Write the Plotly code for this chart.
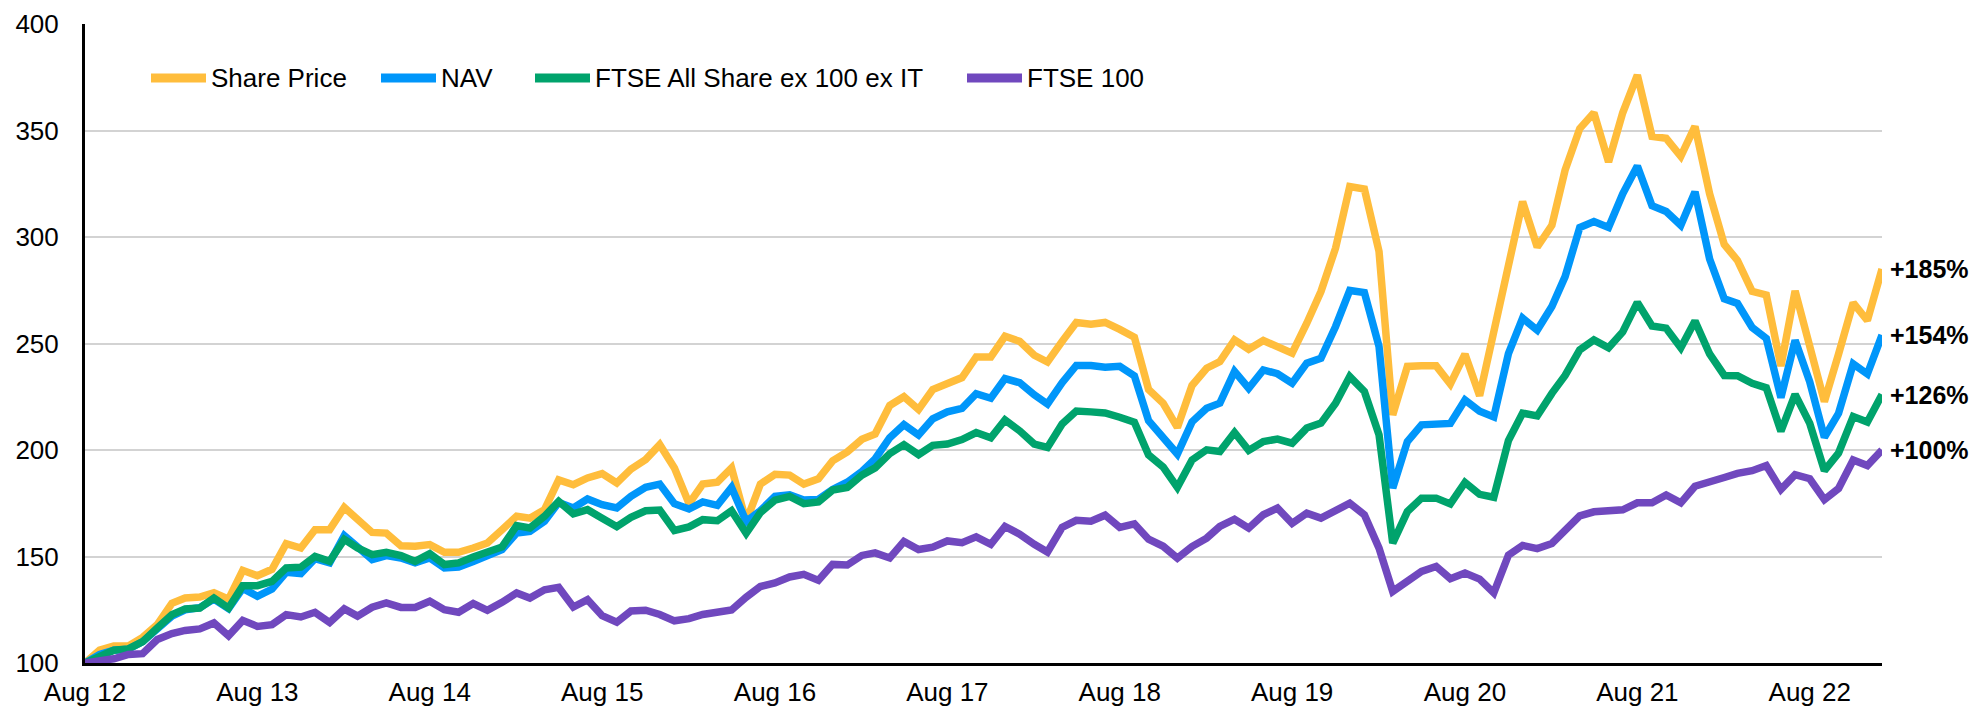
import plotly.graph_objects as go
import pandas as pd

# monthly index, Aug 2012 = 100
months = pd.date_range("2012-08-01", "2023-01-01", freq="MS")

share_price = [
    100, 106, 108, 108, 112, 118, 128, 130.5, 131, 133, 130, 143.5, 141, 144, 156, 154, 162.6, 162.6, 173, 167,
    161.3, 161, 155, 154.8, 155.6, 152, 152, 154, 156.3, 162.6, 168.9, 168, 172, 186, 183.7, 186.9, 188.9, 184.5, 191, 195.5,
    202.5, 191.6, 174.8, 184, 184.9, 191.6, 166.4, 184, 188.6, 188.2, 184, 186.5, 194.9, 199.1, 205, 207.5, 220.9, 225, 219, 228.4,
    231.6, 234, 243.7, 243.7, 253.4, 251, 244.5, 241.3, 251, 259.9, 259, 259.9, 256.6, 252.9, 228.4, 221.9, 210.6, 230.3, 238.4, 241.5,
    251.7, 247.3, 251.4, 248.6, 245.5, 259.5, 274.4, 294.8, 323.7, 322.5, 293.2, 216.5, 239.2, 239.5, 239.5, 231, 245, 225.5, 255.4, 285,
    316.6, 295.3, 305.5, 331.4, 350.9, 358.3, 335.2, 358.3, 376, 347.2, 346.3, 337.9, 351.9, 320.3, 296.5, 289, 274.5, 272.8, 239.4, 274.7,
    248.7, 222.7, 245, 269.1, 260.8, 285,
]

nav = [
    100, 104, 106, 106.5, 110, 115.5, 122, 125, 126, 130, 125.5, 135, 131.3, 134.7, 142.6, 142, 149, 147, 159.8, 154.5,
    148.5, 150.4, 149.3, 147, 149.3, 144.6, 145, 147.7, 150, 153.2, 161, 161.8, 166.5, 175.4, 172.8, 177, 174.3, 172.8, 178.2, 182.5,
    184, 174.8, 172.3, 175.6, 174, 182.4, 166.4, 171.5, 178.2, 179, 176.5, 176.8, 181.5, 184.9, 189.9, 195.8, 205.8, 211.9, 207, 214.6,
    217.9, 219.5, 226.4, 224.3, 233.5, 231.6, 225.9, 221.6, 231.6, 239.7, 239.7, 238.9, 239.3, 234.8, 213.8, 205.7, 198.1, 213.2, 219.6, 222,
    236.9, 229, 237.6, 235.8, 231.4, 240.8, 243.1, 258, 274.9, 273.9, 248.6, 182.1, 204, 211.8, 212.3, 212.5, 223.5, 218.2, 215.5, 245.2,
    261.9, 256.3, 267.4, 281.4, 304.5, 307.3, 304.5, 320.3, 333.3, 314.7, 312, 305.5, 321.2, 289.7, 271, 268.8, 257.5, 252.4, 224.6, 251.5,
    232, 206, 217.2, 240.4, 235.7, 254,
]

ftse_all_share = [
    100, 103, 106, 106.6, 110, 116.4, 122.7, 125.4, 125.8, 130.5, 125.8, 136.3, 136.3, 138.3, 144.6, 145, 150, 147.7, 158, 154,
    150.9, 152, 150.4, 147.7, 151.3, 146.2, 147, 149.8, 152.4, 154.5, 164.5, 163.4, 168.9, 175.9, 170, 172, 168, 164, 168.4, 171.5,
    171.8, 162.2, 163.9, 167.3, 166.8, 171.5, 160.9, 170.6, 176.5, 178.2, 174.8, 175.6, 181.2, 182.4, 188.2, 191.6, 198.3, 202.5, 197.8, 202.2,
    202.8, 204.9, 208.2, 205.7, 214.1, 209, 202.8, 201.2, 212.2, 218.3, 217.9, 217.4, 215.4, 213, 197.7, 192, 182.5, 195.3, 200.1, 199.3,
    208.2, 199.8, 204, 205.1, 203.2, 210.3, 212.6, 222, 234.5, 227.5, 207.1, 156.3, 171.1, 177.4, 177.4, 174.7, 184.8, 179.2, 177.8, 204.4,
    217.3, 216, 226.6, 235, 247, 251.7, 248, 255.4, 269.3, 258.2, 257.2, 248, 260.6, 245.1, 235, 234.9, 231.3, 229.2, 208.8, 226.1,
    212.5, 190.3, 198.6, 215.7, 213.1, 226,
]

ftse_100 = [
    100, 101, 102, 104, 104.4, 111, 113.8, 115.3, 116, 118.8, 112.8, 120, 117.2, 118, 122.7, 121.6, 123.8, 119, 125.4, 122,
    126.2, 128.2, 126.1, 126.1, 129, 125, 123.8, 127.9, 124.7, 128.5, 132.9, 130.5, 134.4, 135.5, 126.3, 129.7, 122.2, 119.2, 124.4, 124.8,
    122.8, 119.8, 120.8, 122.8, 124.2, 124.9, 130.9, 135.9, 137.6, 140.4, 141.6, 138.8, 146.3, 146, 150.5, 151.7, 149.3, 157, 153.3, 154.4,
    157.3, 156.5, 159.2, 155.7, 164.1, 160.5, 155.7, 152.1, 163.7, 167, 166.6, 169.4, 163.7, 165.3, 158.1, 154.8, 149.2, 154.7, 158.6, 164.1,
    167.5, 163.3, 169.6, 172.7, 165.6, 170.3, 168, 171.1, 175, 169.6, 153.9, 133.6, 138.3, 143, 145.3, 139.6, 142.2, 139.4, 132.9, 150.6,
    155.2, 153.7, 156.1, 162.6, 169.1, 171, 171.9, 171.9, 175.2, 175.2, 178.9, 175.2, 183, 185.5, 187.1, 189, 190.3, 192.7, 181.5, 188.4,
    186.5, 176.7, 181.9, 195.3, 192.7, 200,
]

names = ["Share Price", "NAV", "FTSE All Share ex 100 ex IT", "FTSE 100"]
colors = ["#FFBD3C", "#0096FA", "#00A36C", "#7048BE"]
series = [share_price, nav, ftse_all_share, ftse_100]

tick_dates = pd.date_range("2012-08-01", "2022-08-01", freq="12MS")
tick_labels = [d.strftime("Aug %y") for d in tick_dates]

FONT = "Arial, Liberation Sans, sans-serif"
W, H = 1974, 708
L, R, T, B = 85, 92, 24, 45

fig = go.Figure()

for name, color, vals in zip(names, colors, series):
    fig.add_trace(go.Scatter(
        x=months, y=vals, mode="lines", name=name,
        line=dict(color=color, width=7.5),
        showlegend=False,
    ))
    # end-of-period return label
    fig.add_annotation(
        x=months[-1], y=vals[-1], xref="x", yref="y",
        text="+%d%%" % round(vals[-1] - 100),
        showarrow=False, xanchor="left", yanchor="middle", xshift=6,
        font=dict(family=FONT, size=25, color="black", weight="bold"),
    )


def px_x(px):
    return (px - L) / (W - L - R)


def px_y(py):
    return (H - B - py) / (H - B - T)


# hand-built legend across the top of the plot
legend_x = [151, 381, 535, 967]
legend_y = 78
for name, color, x0 in zip(names, colors, legend_x):
    fig.add_shape(type="line", xref="paper", yref="paper",
                  x0=px_x(x0), x1=px_x(x0 + 55), y0=px_y(legend_y), y1=px_y(legend_y),
                  line=dict(color=color, width=9))
    fig.add_annotation(x=px_x(x0 + 58), y=px_y(legend_y), xref="paper", yref="paper",
                       text=name, showarrow=False, xanchor="left", yanchor="middle",
                       font=dict(family=FONT, size=26, color="black"))

fig.update_layout(
    width=W, height=H,
    margin=dict(l=L, r=R, t=T, b=B),
    paper_bgcolor="white", plot_bgcolor="white",
    font=dict(family=FONT, size=26, color="black"),
    xaxis=dict(
        type="date", range=[months[0], months[-1]],
        tickvals=tick_dates, ticktext=tick_labels,
        showgrid=False, zeroline=False,
        showline=True, linecolor="black", linewidth=3,
        ticks="", ticklabelstandoff=4,
        tickfont=dict(family=FONT, size=26, color="black"),
        automargin=False,
    ),
    yaxis=dict(
        range=[100, 400], dtick=50,
        showgrid=True, gridcolor="#D3D3D3", gridwidth=1.5,
        zeroline=False,
        showline=True, linecolor="black", linewidth=3,
        ticks="", ticklabelstandoff=18,
        tickfont=dict(family=FONT, size=26, color="black"),
        automargin=False,
    ),
)

# drop the default 8px body margin so the figure fills the window exactly
fig.write_html("out.html", config={"displayModeBar": False},
               post_script="document.body.style.margin='0px';")
